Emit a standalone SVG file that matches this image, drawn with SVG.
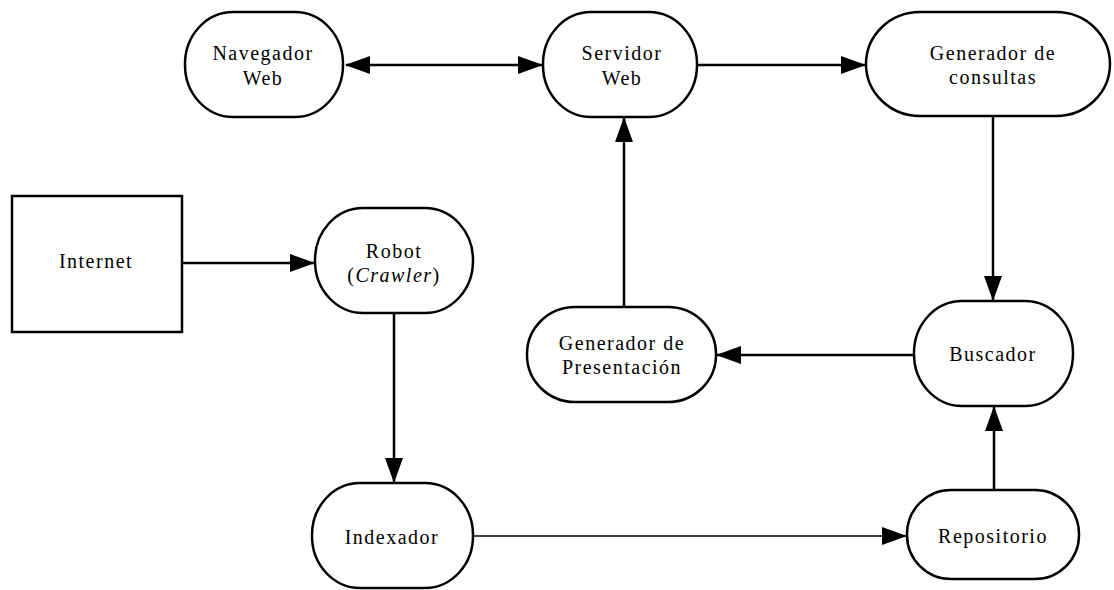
<svg xmlns="http://www.w3.org/2000/svg" width="1114" height="590" viewBox="0 0 1114 590">
<style>
.n{fill:#fff;stroke:#000;stroke-width:2.5}
.t{font-family:"Liberation Serif","Times New Roman",Times,Tinos,"Noto Serif","DejaVu Serif",FreeSerif,Georgia,serif;font-size:20px;letter-spacing:1.5px;text-anchor:middle;fill:#000}
.c{stroke:#000;stroke-width:2.5;fill:none}
.thin{stroke-width:1.6}
</style>
<defs>
<marker id="ah" markerUnits="userSpaceOnUse" markerWidth="25" markerHeight="20" viewBox="0 0 25 20" refX="24" refY="10" orient="auto-start-reverse">
<path d="M0,1 L25,10 L0,19 Z" fill="#000"/>
</marker>
</defs>
<g id="connectors">
<line class="c" x1="346" y1="65" x2="542" y2="65" marker-start="url(#ah)" marker-end="url(#ah)"/>
<line class="c" x1="697" y1="65" x2="865" y2="65" marker-end="url(#ah)"/>
<line class="c" x1="993" y1="116" x2="993" y2="300" marker-end="url(#ah)"/>
<line class="c" x1="914" y1="355" x2="717" y2="355" marker-end="url(#ah)"/>
<line class="c" x1="624" y1="307" x2="624" y2="118" marker-end="url(#ah)"/>
<line class="c" x1="182" y1="263" x2="314" y2="263" marker-end="url(#ah)"/>
<line class="c" x1="394" y1="313" x2="394" y2="482" marker-end="url(#ah)"/>
<line class="c thin" x1="473" y1="536" x2="906" y2="536" marker-end="url(#ah)"/>
<line class="c" x1="994" y1="490" x2="994" y2="407" marker-end="url(#ah)"/>
</g>
<g id="navegador">
<rect class="n" x="185" y="12" width="158" height="105" rx="48" ry="52"/>
<text class="t" x="263" y="60">Navegador</text>
<text class="t" x="263" y="85">Web</text>
</g>
<g id="servidor">
<rect class="n" x="543" y="12" width="154" height="105" rx="48" ry="52"/>
<text class="t" x="622" y="60">Servidor</text>
<text class="t" x="622" y="85">Web</text>
</g>
<g id="consultas">
<rect class="n" x="866" y="12" width="244" height="104" rx="54" ry="52"/>
<text class="t" x="993" y="60">Generador de</text>
<text class="t" x="993" y="84">consultas</text>
</g>
<g id="internet">
<rect class="n" x="12" y="196" width="170" height="136"/>
<text class="t" x="96" y="268">Internet</text>
</g>
<g id="robot">
<rect class="n" x="315" y="208" width="158" height="105" rx="48" ry="52"/>
<text class="t" x="394" y="258">Robot</text>
<text class="t" x="394" y="282">(<tspan font-style="italic">Crawler</tspan>)</text>
</g>
<g id="presentacion">
<rect class="n" x="527" y="307" width="189" height="95" rx="48" ry="47"/>
<text class="t" x="622" y="350">Generador de</text>
<text class="t" x="622" y="374">Presentación</text>
</g>
<g id="buscador">
<rect class="n" x="914" y="301" width="159" height="105" rx="48" ry="52"/>
<text class="t" x="993" y="361">Buscador</text>
</g>
<g id="indexador">
<rect class="n" x="312" y="483" width="161" height="105" rx="48" ry="52"/>
<text class="t" x="392" y="544">Indexador</text>
</g>
<g id="repositorio">
<rect class="n" x="907" y="490" width="172" height="89" rx="44" ry="44"/>
<text class="t" x="993" y="543">Repositorio</text>
</g>
</svg>
